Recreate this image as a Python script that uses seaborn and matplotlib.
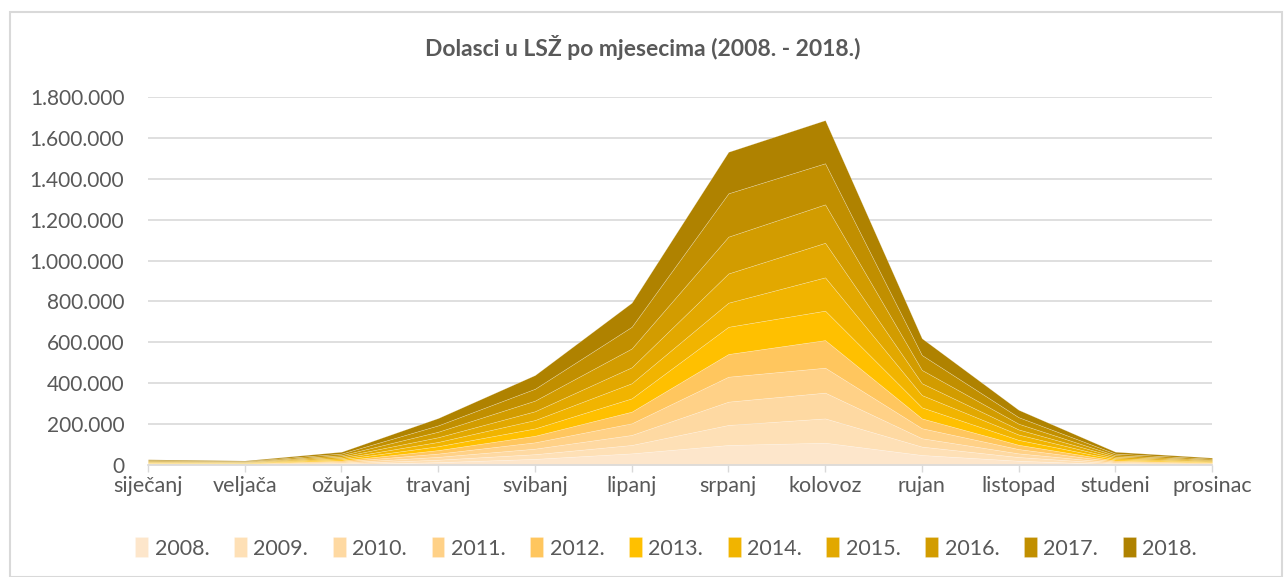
import numpy as np
import pandas as pd
import matplotlib
matplotlib.use("Agg")
import matplotlib.pyplot as plt
from matplotlib.patches import Rectangle
import seaborn as sns

# months (x categories)
months = ['siječanj', 'veljača', 'ožujak', 'travanj', 'svibanj', 'lipanj',
          'srpanj', 'kolovoz', 'rujan', 'listopad', 'studeni', 'prosinac']
years = ['2008.', '2009.', '2010.', '2011.', '2012.', '2013.',
         '2014.', '2015.', '2016.', '2017.', '2018.']

# arrivals per year, in thousands
y2008 = [2, 1, 4, 14, 30, 57, 98, 109, 49, 21, 4, 2]
y2009 = [2, 1, 4, 12, 23, 41, 98, 119, 41, 18, 4, 2]
y2010 = [2, 2, 4, 14, 27, 49, 114, 126, 41, 18, 4, 2]
y2011 = [2, 2, 5, 16, 31, 57, 122, 122, 49, 21, 5, 3]
y2012 = [2, 2, 5, 17, 32, 57, 111, 135, 48, 21, 5, 3]
y2013 = [2, 2, 6, 19, 36, 65, 133, 144, 54, 24, 6, 3]
y2014 = [2, 2, 6, 21, 41, 74, 118, 163, 60, 26, 6, 3]
y2015 = [3, 2, 7, 23, 43, 78, 143, 169, 58, 25, 7, 4]
y2016 = [3, 2, 7, 27, 52, 92, 180, 188, 65, 28, 7, 4]
y2017 = [4, 3, 8, 31, 58, 106, 212, 201, 73, 32, 8, 5]
y2018 = [4, 3, 9, 36, 67, 118, 203, 211, 82, 36, 9, 5]

colors = ['#FDE6CB', '#FEE0B6', '#FED9A2', '#FFD187', '#FFC65E', '#FFC000',
          '#F1B400', '#E2A800', '#D29C00', '#C18F00', '#AF8200']

df = pd.DataFrame({'mjesec': months})
for yr, vals in zip(years, [y2008, y2009, y2010, y2011, y2012, y2013,
                            y2014, y2015, y2016, y2017, y2018]):
    df[yr] = np.array(vals) * 1000

sns.set_theme(style='white')
plt.rcParams['font.family'] = ['Lato', 'DejaVu Sans']

fig = plt.figure(figsize=(12.86, 5.77), dpi=100)
ax = fig.add_axes([148 / 1286, 1 - 465 / 577, (1212 - 148) / 1286, (465 - 97) / 577])

x = np.arange(len(months))
polys = ax.stackplot(x, [df[yr] for yr in years], colors=colors, labels=years)
for p in polys:
    p.set_edgecolor((1, 1, 1, 0.35))
    p.set_linewidth(0.4)

ax.set_xlim(0, len(months) - 1)
ax.set_ylim(0, 1800000)
ax.set_yticks(np.arange(0, 1800001, 200000))
ax.set_yticklabels(['0' if v == 0 else f'{v:,}'.replace(',', '.')
                    for v in np.arange(0, 1800001, 200000)])
ax.set_xticks(x)
ax.set_xticklabels(months)
ax.yaxis.grid(True, color='#D9D9D9', linewidth=1.2)
ax.set_axisbelow(True)
for side in ['top', 'right', 'left']:
    ax.spines[side].set_visible(False)
ax.spines['bottom'].set_color('#D9D9D9')
ax.spines['bottom'].set_linewidth(1.2)
ax.tick_params(axis='x', colors='#595959', labelsize=15.5, length=5,
               width=1, color='#D9D9D9', direction='out', bottom=True, pad=3)
ax.tick_params(axis='y', colors='#595959', labelsize=15, length=0, pad=17)
ax.set_xlabel('')
ax.set_ylabel('')

fig.text(0.5, 1 - 48 / 577, 'Dolasci u LSŽ po mjesecima (2008. - 2018.)',
         ha='center', va='center', fontsize=16.5, fontweight='bold', color='#595959')

leg = fig.legend(*ax.get_legend_handles_labels(), loc='center',
                 bbox_to_anchor=(0.518, 1 - 548 / 577), ncol=11, frameon=False,
                 fontsize=15.5, handlelength=0.6, handleheight=1.0,
                 handletextpad=0.3, columnspacing=1.14)
for t in leg.get_texts():
    t.set_color('#595959')

# chart frame
fig.patches.append(Rectangle((10 / 1286, 0), 1272 / 1286, 1 - 12 / 577,
                             transform=fig.transFigure, fill=False,
                             edgecolor='#D9D9D9', linewidth=1.5))

fig.savefig('out.png', dpi=100)
